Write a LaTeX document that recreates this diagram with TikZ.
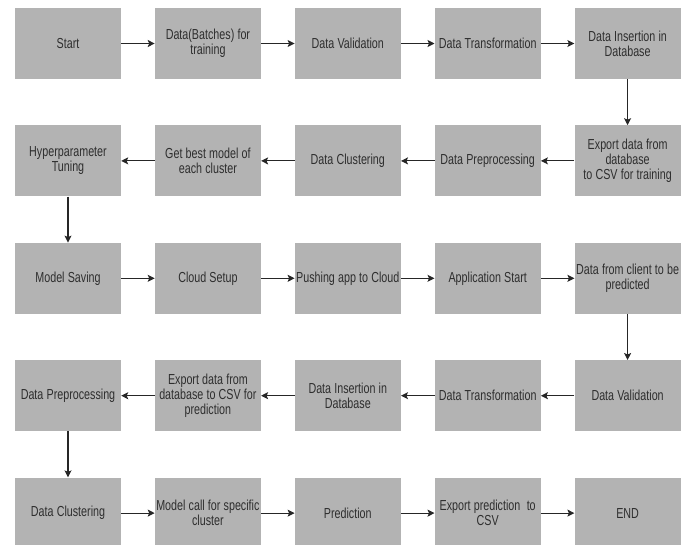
\documentclass[tikz,border=0pt]{standalone}
\usepackage{fontspec}
\setmainfont[FakeStretch=0.74]{Liberation Sans}
\usetikzlibrary{positioning,arrows.meta}
\definecolor{stage}{HTML}{B3B3B3}
\definecolor{label}{HTML}{2E2E2E}
\newcommand\tightspace{\spaceskip=0.22em\relax}

\begin{document}
\begin{tikzpicture}[x=1pt, y=1pt,
  box/.style={fill=stage, minimum width=106pt, minimum height=71pt, text width=104pt, inner sep=0pt, align=center, text=label, font=\fontsize{14.5}{15}\selectfont, execute at begin node=\tightspace},
  arr/.style={-{Stealth[length=7pt, width=7pt, inset=1.5pt]}, line width=1.1pt, black!85}]
\useasboundingbox (0,0) rectangle (686,-544);
\node[box] (start) at (68,-43.5) {Start};
\node[box, right=33.5pt of start] (batch) {Data(Batches) for\\training};
\node[box, right=33.5pt of batch] (val) {Data Validation};
\node[box, right=33.5pt of val] (trans) {Data Transformation};
\node[box, right=33.5pt of trans] (ins) {Data Insertion in\\Database};
\node[box, below=46pt of ins] (exp) {Export data from\\database\\to CSV for training};
\node[box, left=33.5pt of exp] (prep) {Data Preprocessing};
\node[box, left=33.5pt of prep] (clu) {Data Clustering};
\node[box, left=33.5pt of clu] (best) {Get best model of\\each cluster};
\node[box, left=33.5pt of best] (hyp) {Hyperparameter\\Tuning};
\node[box, below=46pt of hyp] (save) {Model Saving};
\node[box, right=33.5pt of save] (cloud) {Cloud Setup};
\node[box, right=33.5pt of cloud] (push) {Pushing app to Cloud};
\node[box, right=33.5pt of push] (app) {Application Start};
\node[box, right=33.5pt of app] (client) {Data from client to be\\predicted};
\node[box, below=46pt of client] (pval) {Data Validation};
\node[box, left=33.5pt of pval] (ptrans) {Data Transformation};
\node[box, left=33.5pt of ptrans] (pins) {Data Insertion in\\Database};
\node[box, left=33.5pt of pins] (pexp) {Export data from\\database to CSV for\\prediction};
\node[box, left=33.5pt of pexp] (pprep) {Data Preprocessing};
\node[box, below=46pt of pprep] (pclu) {Data Clustering};
\node[box, right=33.5pt of pclu] (call) {Model call for specific\\cluster};
\node[box, right=33.5pt of call] (pred) {Prediction};
\node[box, right=33.5pt of pred] (out) {Export prediction\ \ to\\CSV};
\node[box, right=33.5pt of out] (fin) {END};
\draw[arr] (start) -- (batch);
\draw[arr] (batch) -- (val);
\draw[arr] (val) -- (trans);
\draw[arr] (trans) -- (ins);
\draw[arr] (ins) -- (exp);
\draw[arr] (exp) -- (prep);
\draw[arr] (prep) -- (clu);
\draw[arr] (clu) -- (best);
\draw[arr] (best) -- (hyp);
\draw[arr] (hyp) -- (save);
\draw[arr] (save) -- (cloud);
\draw[arr] (cloud) -- (push);
\draw[arr] (push) -- (app);
\draw[arr] (app) -- (client);
\draw[arr] (client) -- (pval);
\draw[arr] (pval) -- (ptrans);
\draw[arr] (ptrans) -- (pins);
\draw[arr] (pins) -- (pexp);
\draw[arr] (pexp) -- (pprep);
\draw[arr] (pprep) -- (pclu);
\draw[arr] (pclu) -- (call);
\draw[arr] (call) -- (pred);
\draw[arr] (pred) -- (out);
\draw[arr] (out) -- (fin);
\end{tikzpicture}
\end{document}
